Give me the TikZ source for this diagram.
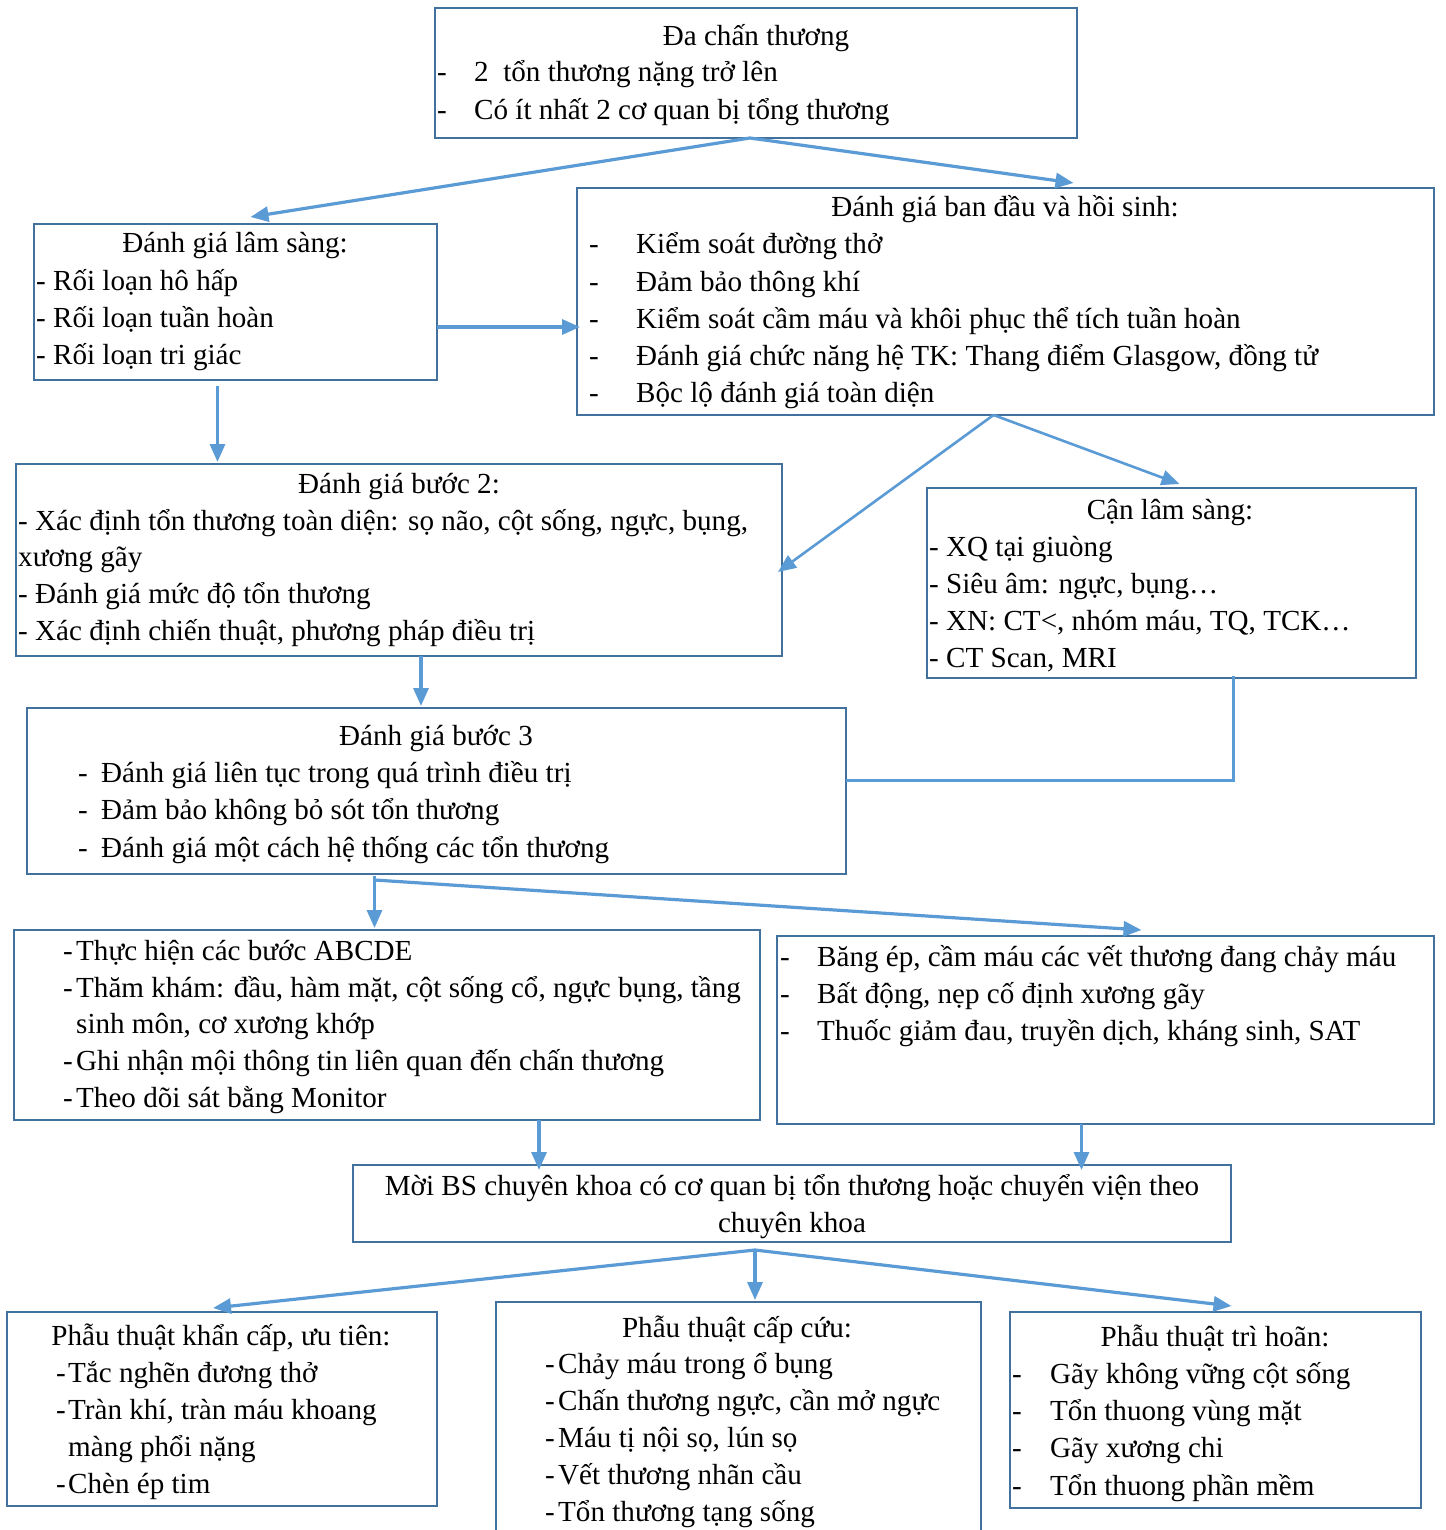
\documentclass[tikz,border=0pt]{standalone}
\usepackage{fontspec}
\setmainfont{Liberation Serif}
\usetikzlibrary{calc,arrows.meta}
\definecolor{boxblue}{HTML}{41719C}
\definecolor{arrowblue}{HTML}{5B9BD5}

\tikzset{
  box/.style={draw=boxblue, line width=2.2pt, anchor=north west, inner sep=0pt, outer sep=0pt},
  txt/.style={anchor=base west, inner sep=0pt, font=\fontsize{29.1}{37}\selectfont},
  ttl/.style={anchor=base, inner sep=0pt, font=\fontsize{29.1}{37}\selectfont},
  flow/.style={draw=arrowblue, line width=3.2pt, -{Triangle[length=18pt,width=15pt]}},
  link/.style={draw=arrowblue, line width=3pt}
}

\begin{document}
\begin{tikzpicture}[x=1pt, y=-1pt]
\path[use as bounding box, fill=white] (0,0) rectangle (1445,1530);

% ---------- boxes ----------
\node[box, minimum width=642pt, minimum height=130pt] (b1) at (435,8) {};
\node[box, minimum width=403pt, minimum height=156pt] (b2) at (34,224) {};
\node[box, minimum width=857pt, minimum height=227pt] (b3) at (577,188) {};
\node[box, minimum width=766pt, minimum height=192pt] (b4) at (16,464) {};
\node[box, minimum width=489pt, minimum height=190pt] (b5) at (927,488) {};
\node[box, minimum width=819pt, minimum height=166pt] (b6) at (27,708) {};
\node[box, minimum width=746pt, minimum height=190pt] (b7) at (14,930) {};
\node[box, minimum width=657pt, minimum height=188pt] (b8) at (777,936) {};
\node[box, minimum width=878pt, minimum height=77pt] (b9) at (353,1165) {};
\node[box, minimum width=430pt, minimum height=194pt] (b10) at (7,1312) {};
\node[box, minimum width=485pt, minimum height=260pt] (b11) at (496,1302) {};
\node[box, minimum width=411pt, minimum height=196pt] (b12) at (1010,1312) {};

% ---------- box 1 ----------
\node[ttl] (t1) at (756,46) {Đa chấn thương};
\node[txt] (d1a) at (437,82) {-};
\node[txt] (t1a) at (474,82) {2\ \ tổn thương nặng trở lên};
\node[txt] (d1b) at (437,120) {-};
\node[txt] (t1b) at (474,120) {Có ít nhất 2 cơ quan bị tổng thương};

% ---------- box 2 ----------
\node[ttl] (t2) at (235,253) {Đánh giá lâm sàng:};
\node[txt] (t2a) at (36,290) {- Rối loạn hô hấp};
\node[txt] (t2b) at (36,327) {- Rối loạn tuần hoàn};
\node[txt] (t2c) at (36,364) {- Rối loạn tri giác};

% ---------- box 3 ----------
\node[ttl] (t3) at (1005,217) {Đánh giá ban đầu và hồi sinh:};
\node[txt] (d3a) at (589,254) {-};
\node[txt] (t3a) at (636,254) {Kiểm soát đường thở};
\node[txt] (d3b) at (589,291) {-};
\node[txt] (t3b) at (636,291) {Đảm bảo thông khí};
\node[txt] (d3c) at (589,328) {-};
\node[txt] (t3c) at (636,328) {Kiểm soát cầm máu và khôi phục thể tích tuần hoàn};
\node[txt] (d3d) at (589,365) {-};
\node[txt] (t3d) at (636,365) {Đánh giá chức năng hệ TK: Thang điểm Glasgow, đồng tử};
\node[txt] (d3e) at (589,402) {-};
\node[txt] (t3e) at (636,402) {Bộc lộ đánh giá toàn diện};

% ---------- box 4 ----------
\node[ttl] (t4) at (399,493) {Đánh giá bước 2:};
\node[txt] (t4a) at (18,530) {- Xác định tổn thương toàn diện: sọ não, cột sống, ngực, bụng,};
\node[txt] (t4b) at (18,566) {xương gãy};
\node[txt] (t4c) at (18,603) {- Đánh giá mức độ tổn thương};
\node[txt] (t4d) at (18,640) {- Xác định chiến thuật, phương pháp điều trị};

% ---------- box 5 ----------
\node[ttl] (t5) at (1170,519) {Cận lâm sàng:};
\node[txt] (t5a) at (929,556) {- XQ tại giuòng};
\node[txt] (t5b) at (929,593) {- Siêu âm: ngực, bụng…};
\node[txt] (t5c) at (929,630) {- XN: CT<, nhóm máu, TQ, TCK…};
\node[txt] (t5d) at (929,667) {- CT Scan, MRI};

% ---------- box 6 ----------
\node[ttl] (t6) at (436,745) {Đánh giá bước 3};
\node[txt] (d6a) at (78,782) {-};
\node[txt] (t6a) at (101,782) {Đánh giá liên tục trong quá trình điều trị};
\node[txt] (d6b) at (78,819) {-};
\node[txt] (t6b) at (101,819) {Đảm bảo không bỏ sót tổn thương};
\node[txt] (d6c) at (78,857) {-};
\node[txt] (t6c) at (101,857) {Đánh giá một cách hệ thống các tổn thương};

% ---------- box 7 ----------
\node[txt] (d7a) at (63,960) {-};
\node[txt] (t7a) at (76,960) {Thực hiện các bước ABCDE};
\node[txt] (d7b) at (63,997) {-};
\node[txt] (t7b) at (76,997) {Thăm khám: đầu, hàm mặt, cột sống cổ, ngực bụng, tầng};
\node[txt] (t7c) at (76,1033) {sinh môn, cơ xương khớp};
\node[txt] (d7d) at (63,1070) {-};
\node[txt] (t7d) at (76,1070) {Ghi nhận mội thông tin liên quan đến chấn thương};
\node[txt] (d7e) at (63,1107) {-};
\node[txt] (t7e) at (76,1107) {Theo dõi sát bằng Monitor};

% ---------- box 8 ----------
\node[txt] (d8a) at (780,966) {-};
\node[txt] (t8a) at (817,966) {Băng ép, cầm máu các vết thương đang chảy máu};
\node[txt] (d8b) at (780,1003) {-};
\node[txt] (t8b) at (817,1003) {Bất động, nẹp cố định xương gãy};
\node[txt] (d8c) at (780,1040) {-};
\node[txt] (t8c) at (817,1040) {Thuốc giảm đau, truyền dịch, kháng sinh, SAT};

% ---------- box 9 ----------
\node[ttl] (t9a) at (792,1195) {Mời BS chuyên khoa có cơ quan bị tổn thương hoặc chuyển viện theo};
\node[ttl] (t9b) at (792,1232) {chuyên khoa};

% ---------- box 10 ----------
\node[ttl] (t10) at (221,1345) {Phẫu thuật khẩn cấp, ưu tiên:};
\node[txt] (d10a) at (56,1382) {-};
\node[txt] (t10a) at (68,1382) {Tắc nghẽn đương thở};
\node[txt] (d10b) at (56,1419) {-};
\node[txt] (t10b) at (68,1419) {Tràn khí, tràn máu khoang};
\node[txt] (t10c) at (68,1456) {màng phổi nặng};
\node[txt] (d10d) at (56,1493) {-};
\node[txt] (t10d) at (68,1493) {Chèn ép tim};

% ---------- box 11 ----------
\node[ttl] (t11) at (737,1337) {Phẫu thuật cấp cứu:};
\node[txt] (d11a) at (545,1373) {-};
\node[txt] (t11a) at (558,1373) {Chảy máu trong ổ bụng};
\node[txt] (d11b) at (545,1410) {-};
\node[txt] (t11b) at (558,1410) {Chấn thương ngực, cần mở ngực};
\node[txt] (d11c) at (545,1447) {-};
\node[txt] (t11c) at (558,1447) {Máu tị nội sọ, lún sọ};
\node[txt] (d11d) at (545,1484) {-};
\node[txt] (t11d) at (558,1484) {Vết thương nhãn cầu};
\node[txt] (d11e) at (545,1521) {-};
\node[txt] (t11e) at (558,1521) {Tổn thương tạng sống};

% ---------- box 12 ----------
\node[ttl] (t12) at (1215,1346) {Phẫu thuật trì hoãn:};
\node[txt] (d12a) at (1012,1383) {-};
\node[txt] (t12a) at (1050,1383) {Gãy không vững cột sống};
\node[txt] (d12b) at (1012,1420) {-};
\node[txt] (t12b) at (1050,1420) {Tổn thuong vùng mặt};
\node[txt] (d12c) at (1012,1457) {-};
\node[txt] (t12c) at (1050,1457) {Gãy xương chi};
\node[txt] (d12d) at (1012,1495) {-};
\node[txt] (t12d) at (1050,1495) {Tổn thuong phần mềm};

% ---------- connectors ----------
\coordinate (j1) at ($(b1.south)+(-6,0)$);
\draw[flow] (j1) -- ($(b2.north)+(15,-7)$);
\draw[flow] (j1) -- ($(b3.north)+(68,-5)$);

\coordinate (h1) at ($(b2.east)+(0,25)$);
\draw[flow] (h1) -- ($(h1 -| b3.west)+(3,0)$);

\coordinate (v1) at ($(b2.south)+(-18,6)$);
\draw[flow] (v1) -- ($(v1 |- b4.north)+(0,-2)$);

\coordinate (j2) at ($(b3.south)+(-12,0)$);
\draw[flow, line width=2.6pt] (j2) -- ($(b4.east)+(-4,12)$);
\draw[flow, line width=2.6pt] (j2) -- ($(b5.north)+(8,-4)$);

\coordinate (v2) at ($(b5.south)+(62,-2)$);
\draw[link] (v2) |- ($(b6.east)+(0,-11)$);

\coordinate (v3) at ($(b4.south)+(22,0)$);
\draw[flow] (v3) -- ($(v3 |- b6.north)+(0,-2)$);

\coordinate (j3) at ($(b6.south)+(-62,2)$);
\draw[flow] (j3) -- ($(j3 |- b7.north)+(0,-2)$);
\draw[flow] ($(j3)+(0,4)$) -- ($(b8.north)+(36,-6)$);

\coordinate (v4) at ($(b7.south)+(152,0)$);
\draw[flow] (v4) -- ($(v4 |- b9.north)+(0,5)$);

\coordinate (v5) at ($(b8.south)+(-24,0)$);
\draw[flow] (v5) -- ($(v5 |- b9.north)+(0,5)$);

\coordinate (j4) at ($(b9.south)+(-37,8)$);
\draw[flow] (j4) -- ($(b10.north)+(-9,-4)$);
\draw[flow] (j4) -- ($(j4 |- b11.north)+(0,-2)$);
\draw[flow] (j4) -- ($(b12.north)+(16,-6)$);
\end{tikzpicture}
\end{document}
